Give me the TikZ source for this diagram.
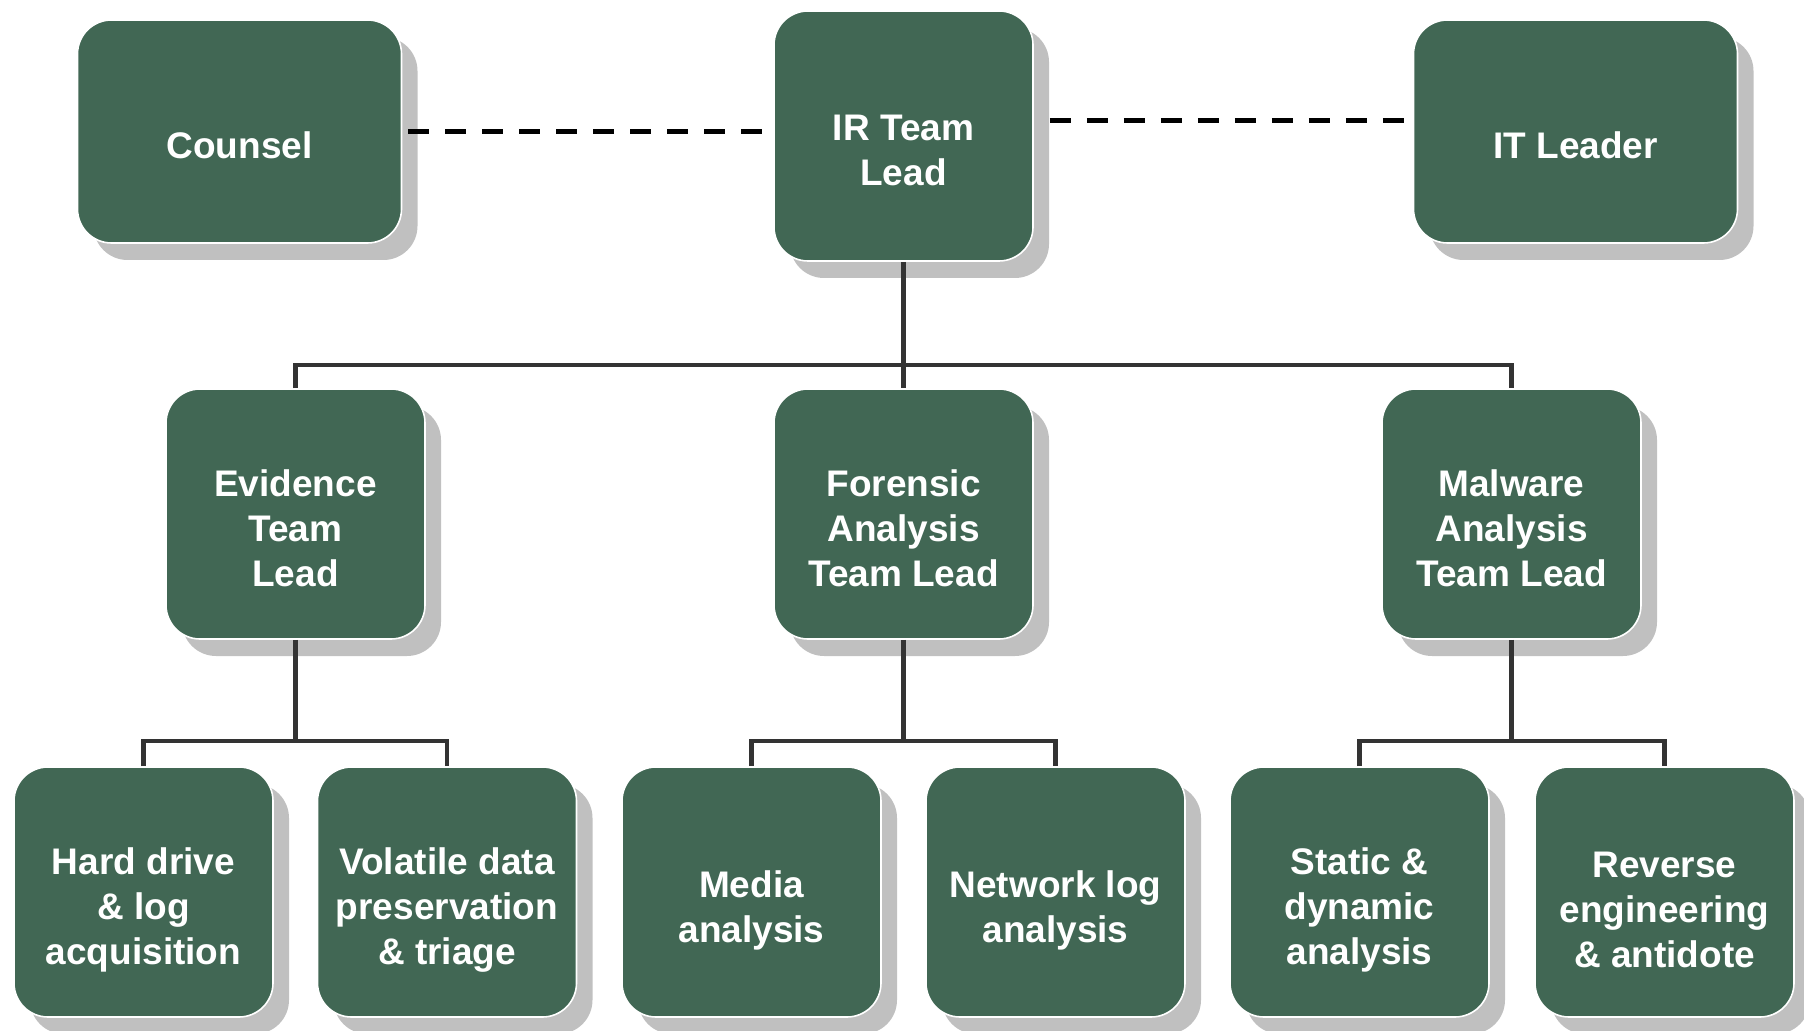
\documentclass[tikz,border=0pt]{standalone}
\usepackage{fontspec}
\setmainfont{Liberation Sans}
\definecolor{irgreen}{RGB}{65,103,84}
\definecolor{shadowgray}{RGB}{192,192,192}
\definecolor{linegray}{RGB}{51,51,51}
\usetikzlibrary{shadows}

\begin{document}
\begin{tikzpicture}[
  x=0.5pt, y=-0.5pt,
  box/.style={rounded corners=17pt, fill=irgreen, draw=white, line width=0.8pt, minimum width=129.5pt, minimum height=125pt, drop shadow={shadow xshift=8pt, shadow yshift=-8.5pt, fill=shadowgray, opacity=1}},
  widebox/.style={box, minimum width=162pt, minimum height=111.5pt},
  boxtext/.style={text=white, font=\bfseries\fontsize{18.5}{22.5}\selectfont, align=center, yshift=-7pt},
  lowtext/.style={boxtext, yshift=-2pt},
  dashline/.style={dash pattern=on 10.5pt off 8pt, line width=2.5pt, black},
  conn/.style={line width=2.4pt, linegray}
]
\useasboundingbox (0,0) rectangle (1804,1031);
\node[widebox, label={[boxtext]center:Counsel}] (counsel) at (239.5,131.5) {};
\node[box, label={[boxtext]center:IR Team\\Lead}] (ir) at (903.5,136) {};
\node[widebox, label={[boxtext]center:IT Leader}] (itlead) at (1575.5,131.5) {};
\node[box, label={[boxtext]center:Evidence\\Team\\Lead}] (evidence) at (295.5,514) {};
\node[box, label={[boxtext]center:Forensic\\Analysis\\Team Lead}] (forensic) at (903.5,514) {};
\node[box, label={[boxtext]center:Malware\\Analysis\\Team Lead}] (malware) at (1511.5,514) {};
\node[box, label={[lowtext]center:Hard drive\\\& log\\acquisition}] (harddrive) at (143.5,892) {};
\node[box, label={[lowtext]center:Volatile data\\preservation\\\& triage}] (volatile) at (447,892) {};
\node[box, label={[lowtext]center:Media\\analysis}] (media) at (751.5,892) {};
\node[box, label={[lowtext]center:Network log\\analysis}] (netlog) at (1055.5,892) {};
\node[box, label={[lowtext]center:Static \&\\dynamic\\analysis}] (static) at (1359.5,892) {};
\node[box, label={[lowtext]center:Reverse\\engineering\\\& antidote}] (reverse) at (1664.5,892) {};
\coordinate (bar1) at (903.5,365);
\coordinate (bar2) at (903.5,741);
\draw[dashline] ([xshift=3pt]counsel.east) -- ([xshift=-4pt]counsel.east -| ir.west);
\draw[dashline] ([xshift=8pt,yshift=7.5pt]ir.east) -- ([xshift=-3pt,yshift=7.5pt]ir.east -| itlead.west);
\draw[conn] (ir.south) -- (forensic.north);
\draw[conn] (evidence.north) -- (evidence.north |- bar1) -- (malware.north |- bar1) -- (malware.north);
\draw[conn] (evidence.south) -- (evidence.south |- bar2);
\draw[conn] (harddrive.north) -- (harddrive.north |- bar2) -- (volatile.north |- bar2) -- (volatile.north);
\draw[conn] (forensic.south) -- (forensic.south |- bar2);
\draw[conn] (media.north) -- (media.north |- bar2) -- (netlog.north |- bar2) -- (netlog.north);
\draw[conn] (malware.south) -- (malware.south |- bar2);
\draw[conn] (static.north) -- (static.north |- bar2) -- (reverse.north |- bar2) -- (reverse.north);
\end{tikzpicture}
\end{document}
